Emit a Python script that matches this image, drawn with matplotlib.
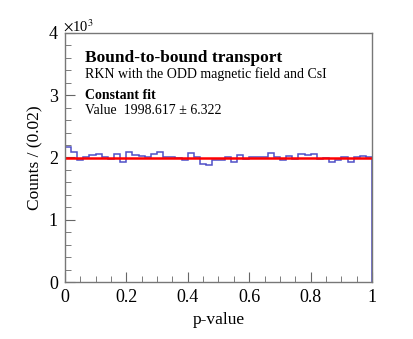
import numpy as np
import matplotlib
matplotlib.use("Agg")
import matplotlib.pyplot as plt
from matplotlib.ticker import MultipleLocator, FuncFormatter

plt.rcParams['font.family'] = ['Liberation Serif', 'DejaVu Serif']
plt.rcParams['mathtext.fontset'] = 'stix'

# p-value histogram, 50 bins on [0, 1]
bin_edges = np.linspace(0.0, 1.0, 51)
counts = [2170, 2090, 1955, 2010, 2035, 2060, 2010, 1970, 2050, 1935,
          2095, 2040, 2025, 2015, 2050, 2095, 2000, 2000, 1985, 1955,
          2065, 2000, 1900, 1880, 1960, 1965, 2000, 1920, 2035, 1975,
          2010, 2000, 2015, 2065, 2000, 1955, 2025, 1970, 2050, 2040,
          2050, 1970, 1985, 1920, 1960, 2000, 1935, 2015, 2030, 2000]
fit_value = 1998.617
fit_error = 6.322

fig = plt.figure(figsize=(4.13, 3.39), dpi=100)
ax = fig.add_axes([0.157, 0.168, 0.744, 0.735])

ax.stairs(counts, bin_edges, color='#5050c8', lw=1.1)
ax.axhline(fit_value, color='#ff0000', lw=1.8)

ax.set_xlim(0, 1)
ax.set_ylim(0, 4000)
ax.xaxis.set_major_locator(MultipleLocator(0.2))
ax.xaxis.set_minor_locator(MultipleLocator(0.05))
ax.yaxis.set_major_locator(MultipleLocator(1000))
ax.yaxis.set_minor_locator(MultipleLocator(200))
ax.xaxis.set_major_formatter(FuncFormatter(lambda v, p: f"{v:g}"))
ax.yaxis.set_major_formatter(FuncFormatter(lambda v, p: f"{v / 1000:g}"))
ax.tick_params(which='both', direction='in', top=False, right=False,
               labelsize=13, pad=5, color='#666666')
ax.tick_params(which='major', length=7)
ax.tick_params(which='minor', length=4)
for s in ax.spines.values():
    s.set_linewidth(1.0)
    s.set_color('#777777')

ax.set_xlabel('p-value', fontsize=12.5)
ax.set_ylabel('Counts / (0.02)', fontsize=12.5)
fig.text(0.153, 0.908, r'$\times$10$^{3}$', fontsize=10.5, ha='left', va='baseline')

ax.text(0.065, 0.90, 'Bound-to-bound transport', transform=ax.transAxes,
        fontsize=12.5, fontweight='bold', va='center')
ax.text(0.065, 0.835, 'RKN with the ODD magnetic field and CsI',
        transform=ax.transAxes, fontsize=10, va='center')
ax.text(0.065, 0.75, 'Constant fit', transform=ax.transAxes,
        fontsize=10, fontweight='bold', va='center')
ax.text(0.065, 0.69, f'Value  {fit_value:.3f} \u00b1 {fit_error:.3f}',
        transform=ax.transAxes, fontsize=10, va='center')

fig.savefig('out.png', dpi=100)
